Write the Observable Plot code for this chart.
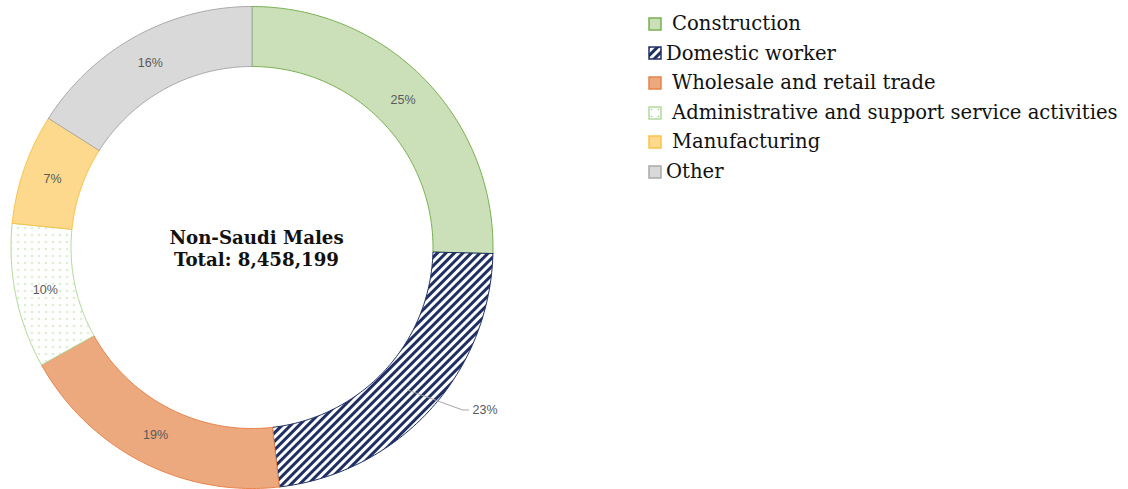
<!DOCTYPE html>
<html>
<head>
<meta charset="utf-8">
<script src="https://cdn.jsdelivr.net/npm/d3@7"></script>
<script src="https://cdn.jsdelivr.net/npm/@observablehq/plot@0.6"></script>
<style>
  html, body { margin: 0; padding: 0; background: #fff; }
  #wrap { position: relative; width: 1128px; height: 489px; overflow: hidden; }
  #chart { position: absolute; left: 0; top: 0; }
  #legend { position: absolute; left: 648px; top: 9px; font-family: "DejaVu Serif", serif; font-size: 19.6px; color: #111; }
  .row { height: 29.6px; line-height: 29.6px; display: flex; align-items: center; white-space: nowrap; }
  .row svg { flex: none; }
</style>
</head>
<body>
<svg width="0" height="0" style="position:absolute">
  <defs>
    <pattern id="hatch" patternUnits="userSpaceOnUse" width="6" height="6" patternTransform="rotate(45)">
      <rect width="6" height="6" fill="#ffffff"></rect>
      <rect width="3" height="6" fill="#1f2f63"></rect>
    </pattern>
    <pattern id="dots" patternUnits="userSpaceOnUse" width="7" height="7">
      <rect width="7" height="7" fill="#ffffff"></rect>
      <circle cx="3.5" cy="3.5" r="0.8" fill="#9fcb80"></circle>
    </pattern>
  </defs>
</svg>
<div id="wrap">
  <div id="chart"></div>
  <div id="legend"></div>
</div>
<script>
// ---- data ----
const categories = ["Construction", "Domestic worker", "Wholesale and retail trade", "Administrative and support service activities", "Manufacturing", "Other"];
const shares = [25.4, 22.8, 18.7, 9.7, 7.4, 16.0];
const centerTitle = "Non-Saudi Males";
const total = 8458199;
const outsideLabels = ["Domestic worker"];

// ---- styles ----
const fills = ["#cbdfb9", "url(#hatch)", "#eca97e", "url(#dots)", "#fcd98c", "#d9d9d9"];
const strokes = ["#78b050", "#1f2f63", "#e8834a", "#b3d99a", "#f7c44a", "#a9a9a9"];
const legendTight = ["Domestic worker", "Other"];

const W = 504, H = 489, CX = 251.5, CY = 247, R = 241;
const inner = 181 / R, mid = 211 / R;

const sum = d3.sum(shares);
let acc = 0;
const slices = categories.map((c, i) => {
  const a0 = acc / sum * 2 * Math.PI;
  acc += shares[i];
  const a1 = acc / sum * 2 * Math.PI;
  return {category: c, share: shares[i], a0, a1, i};
});

function ring(s) {
  const n = Math.max(8, Math.ceil((s.a1 - s.a0) / (2 * Math.PI) * 400));
  const pts = [];
  for (let k = 0; k <= n; k++) {
    const a = s.a0 + (s.a1 - s.a0) * k / n;
    pts.push({x: Math.sin(a), y: Math.cos(a)});
  }
  for (let k = n; k >= 0; k--) {
    const a = s.a0 + (s.a1 - s.a0) * k / n;
    pts.push({x: inner * Math.sin(a), y: inner * Math.cos(a)});
  }
  pts.push(pts[0]);
  return pts;
}

const labelData = [];
const leaderData = [];
slices.forEach(s => {
  const am = (s.a0 + s.a1) / 2;
  const txt = Math.round(s.share / sum * 100) + "%";
  if (outsideLabels.includes(s.category)) {
    const p0 = {x: mid * Math.sin(am), y: mid * Math.cos(am), k: s.category};
    const p1 = {x: p0.x + 55 / R, y: p0.y - 20 / R, k: s.category};
    const p2 = {x: p1.x + 6 / R, y: p1.y, k: s.category};
    leaderData.push(p0, p1, p2);
    labelData.push({x: p2.x + 4 / R, y: p2.y, text: txt, anchor: "start"});
  } else {
    labelData.push({x: mid * Math.sin(am), y: mid * Math.cos(am), text: txt, anchor: "middle"});
  }
});

const marks = slices.map(s => Plot.line(ring(s), {
  x: "x", y: "y", curve: "linear",
  fill: fills[s.i], stroke: strokes[s.i], strokeWidth: 1, strokeLinejoin: "miter"
}));
marks.push(Plot.line(leaderData, {x: "x", y: "y", z: "k", stroke: "#a6a6a6", strokeWidth: 1}));
marks.push(Plot.text(labelData.filter(d => d.anchor === "middle"), {
  x: "x", y: "y", text: "text", fontSize: 12.5, fill: "#595959",
  fontFamily: "Liberation Sans, Arial, sans-serif", textAnchor: "middle"
}));
marks.push(Plot.text(labelData.filter(d => d.anchor === "start"), {
  x: "x", y: "y", text: "text", fontSize: 12.5, fill: "#595959",
  fontFamily: "Liberation Sans, Arial, sans-serif", textAnchor: "start"
}));
marks.push(Plot.text([centerTitle + "\nTotal: " + d3.format(",")(total)], {
  frameAnchor: "middle", text: d => d, dx: 4, dy: 3,
  fontFamily: "DejaVu Serif, serif", fontWeight: "bold", fontSize: 18.2,
  fill: "#111", lineHeight: 1.22
}));

const chart = Plot.plot({
  width: W, height: H, margin: 0,
  x: {domain: [-CX / R, (W - CX) / R], axis: null},
  y: {domain: [-(H - CY) / R, CY / R], axis: null},
  style: {background: "transparent", overflow: "visible"},
  marks
});
document.getElementById("chart").appendChild(chart);

// ---- legend ----
const legend = d3.select("#legend");
categories.forEach((c, i) => {
  const row = legend.append("div").attr("class", "row");
  const sw = row.append("svg").attr("width", 14).attr("height", 14)
    .style("margin-right", legendTight.includes(c) ? "4px" : "10px");
  sw.append("rect").attr("x", 1).attr("y", 1).attr("width", 12).attr("height", 12)
    .attr("fill", fills[i]).attr("stroke", strokes[i]).attr("stroke-width", 1.5);
  row.append("span").text(c);
});
</script>
</body>
</html>
